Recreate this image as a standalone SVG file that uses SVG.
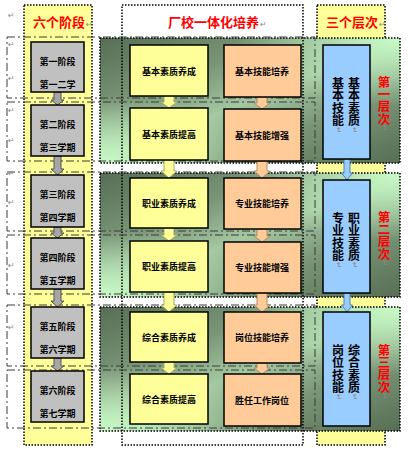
<svg xmlns="http://www.w3.org/2000/svg" width="409" height="450" viewBox="0 0 409 450">
<defs>
<linearGradient id="pgBase" x1="0" y1="0" x2="1" y2="1">
<stop offset="0" stop-color="#566e55"/>
<stop offset="0.3" stop-color="#7a9677"/>
<stop offset="0.5" stop-color="#a4c8a1"/>
<stop offset="0.7" stop-color="#7a9677"/>
<stop offset="1" stop-color="#566e55"/>
</linearGradient>
<radialGradient id="hlBL" cx="0" cy="1" r="0.55">
<stop offset="0" stop-color="#c8fac6" stop-opacity="1"/>
<stop offset="1" stop-color="#c8fac6" stop-opacity="0"/>
</radialGradient>
<radialGradient id="hlTR" cx="1" cy="0" r="0.55">
<stop offset="0" stop-color="#c8fac6" stop-opacity="1"/>
<stop offset="1" stop-color="#c8fac6" stop-opacity="0"/>
</radialGradient>
<style>
.col{fill:#ffff99;stroke:#000;stroke-width:1.5;stroke-dasharray:1.5 1.5}
.dot{fill:none;stroke:#000;stroke-width:1.5;stroke-dasharray:1.5 1.5}
.row{fill:none;stroke:#3a3a3a;stroke-width:1;stroke-dasharray:8 3 2 3}
.gray{fill:#c0c0c0;stroke:#000;stroke-width:1.5}
.yel{fill:#ffff99;stroke:#000;stroke-width:1.5}
.pch{fill:#ffcc99;stroke:#000;stroke-width:1.5}
.blu{fill:#99ccff;stroke:#000;stroke-width:1.5}
.t{font-family:"Noto Sans CJK SC","Liberation Sans",sans-serif;font-weight:bold;fill:#000}
.s{font-size:9px;text-anchor:middle}
.hdr{font-family:"Noto Sans CJK SC","Liberation Sans",sans-serif;font-weight:bold;fill:#ff0000;font-size:13px}
.v{font-size:12px;writing-mode:vertical-rl;letter-spacing:0.5px}
.red{font-family:"Noto Sans CJK SC","Liberation Sans",sans-serif;font-weight:bold;fill:#ff0000;font-size:12.5px;writing-mode:vertical-rl;letter-spacing:-0.3px}
.mk{font-family:"DejaVu Sans",sans-serif;fill:#8a8a8a;font-size:8px;font-weight:normal}
.ag{fill:#a6a6a6;stroke:#555;stroke-width:1}
.ay{fill:#ffff99;stroke:#a8a860;stroke-width:1}
.ap{fill:#ffcc99;stroke:#b08a66;stroke-width:1}
.ab{fill:#99ccff;stroke:#4f81bd;stroke-width:1}
</style>
</defs>
<rect width="409" height="450" fill="#ffffff"/>

<!-- background columns -->
<g id="bg">
<rect class="col" x="24" y="5" width="68" height="440"/>
<rect x="122" y="5" width="181" height="440" fill="#ffffff"/>
<rect class="col" x="317" y="5" width="68" height="440"/>
</g>

<!-- green panels -->
<g id="panels">
<rect x="100" y="38" width="300" height="125" fill="url(#pgBase)"/>
<rect x="100" y="38" width="300" height="125" fill="url(#hlBL)"/>
<rect x="100" y="38" width="300" height="125" fill="url(#hlTR)"/>
<rect class="dot" x="100" y="38" width="300" height="125"/>
<rect x="100" y="173" width="300" height="124" fill="url(#pgBase)"/>
<rect x="100" y="173" width="300" height="124" fill="url(#hlBL)"/>
<rect x="100" y="173" width="300" height="124" fill="url(#hlTR)"/>
<rect class="dot" x="100" y="173" width="300" height="124"/>
<rect x="100" y="307" width="300" height="124" fill="url(#pgBase)"/>
<rect x="100" y="307" width="300" height="124" fill="url(#hlBL)"/>
<rect x="100" y="307" width="300" height="124" fill="url(#hlTR)"/>
<rect class="dot" x="100" y="307" width="300" height="124"/>
</g>

<rect class="dot" x="122" y="5" width="181" height="440"/>

<!-- row frames -->
<g id="rows">
<rect class="row" x="7" y="37" width="308" height="61"/>
<rect class="row" x="7" y="102" width="308" height="59"/>
<rect class="row" x="7" y="172" width="308" height="59"/>
<rect class="row" x="7" y="235" width="308" height="59"/>
<rect class="row" x="7" y="305" width="308" height="61"/>
<rect class="row" x="7" y="370" width="308" height="58"/>
</g>

<!-- headers -->
<g id="header-stages"><text class="hdr" x="33" y="27">六个阶段<tspan class="mk" dx="1">↵</tspan></text></g>
<g id="header-training"><text class="hdr" x="168" y="27">厂校一体化培养<tspan class="mk" dx="1">↵</tspan></text></g>
<g id="header-levels"><text class="hdr" x="326" y="27">三个层次<tspan class="mk" dx="1">↵</tspan></text></g>

<!-- margin marks -->
<g id="margin-marks" class="mk">
<text x="8" y="18">↵</text><text x="8" y="47">↵</text><text x="8" y="81">↵</text>
<text x="8" y="113">↵</text><text x="8" y="143">↵</text><text x="8" y="176">↵</text>
<text x="8" y="205">↵</text><text x="8" y="268">↵</text><text x="8" y="330">↵</text>
</g>

<!-- connectors -->
<g id="connectors">
<path class="ag" d="M54,92 V100 H51 L57.5,105 L64,100 H61 V92 Z"/>
<path class="ag" d="M54,156 V169 H51 L57.5,175 L64,169 H61 V156 Z"/>
<path class="ag" d="M54,227 V233 H51 L57.5,238 L64,233 H61 V227 Z"/>
<path class="ag" d="M54,289 V301 H51 L57.5,307 L64,301 H61 V289 Z"/>
<path class="ag" d="M54,358 V366 H51 L57.5,371 L64,366 H61 V358 Z"/>

<path class="ay" d="M164,96 V102 H161 L169,108 L177,102 H174 V96 Z"/>
<path class="ay" d="M164,160 V171 H161 L169,178 L177,171 H174 V160 Z"/>
<path class="ay" d="M164,228 V235 H161 L169,241 L177,235 H174 V228 Z"/>
<path class="ay" d="M164,292 V305 H161 L169,312 L177,305 H174 V292 Z"/>
<path class="ay" d="M164,362 V368 H161 L169,374 L177,368 H174 V362 Z"/>

<path class="ap" d="M257,97 V103 H254 L262,109 L270,103 H267 V97 Z"/>
<path class="ap" d="M257,161 V171 H254 L262,178 L270,171 H267 V161 Z"/>
<path class="ap" d="M257,229 V236 H254 L262,242 L270,236 H267 V229 Z"/>
<path class="ap" d="M257,293 V305 H254 L262,312 L270,305 H267 V293 Z"/>
<path class="ap" d="M257,363 V368 H254 L262,374 L270,368 H267 V363 Z"/>

<path class="ab" d="M344,159 V173 H341.5 L347,180 L352.5,173 H350 V159 Z"/>
<path class="ab" d="M344,293 V305 H341.5 L347,312 L352.5,305 H350 V293 Z"/>
</g>

<!-- stage nodes -->
<g id="stage1"><rect class="gray" x="31" y="42" width="53" height="50"/><text class="t s" x="57.5" y="64.5">第一阶段</text><text class="t s" x="57.5" y="87.5">第一二学</text></g>
<g id="stage2"><rect class="gray" x="31" y="105" width="53" height="51"/><text class="t s" x="57.5" y="127.5">第二阶段</text><text class="t s" x="57.5" y="150.5">第三学期</text></g>
<g id="stage3"><rect class="gray" x="31" y="175" width="53" height="52"/><text class="t s" x="57.5" y="197.5">第三阶段</text><text class="t s" x="57.5" y="220.5">第四学期</text></g>
<g id="stage4"><rect class="gray" x="31" y="238" width="53" height="51"/><text class="t s" x="57.5" y="260.5">第四阶段</text><text class="t s" x="57.5" y="283.5">第五学期</text></g>
<g id="stage5"><rect class="gray" x="31" y="307" width="53" height="51"/><text class="t s" x="57.5" y="329.5">第五阶段</text><text class="t s" x="57.5" y="352.5">第六学期</text></g>
<g id="stage6"><rect class="gray" x="31" y="371" width="53" height="51"/><text class="t s" x="57.5" y="393.5">第六阶段</text><text class="t s" x="57.5" y="416.5">第七学期</text></g>

<!-- quality nodes -->
<g id="quality1"><rect class="yel" x="130" y="45" width="78" height="51"/><text class="t s" x="169" y="75">基本素质养成</text></g>
<g id="quality2"><rect class="yel" x="130" y="108" width="78" height="52"/><text class="t s" x="169" y="138">基本素质提高</text></g>
<g id="quality3"><rect class="yel" x="130" y="178" width="78" height="50"/><text class="t s" x="169" y="207">职业素质养成</text></g>
<g id="quality4"><rect class="yel" x="130" y="241" width="78" height="51"/><text class="t s" x="169" y="270">职业素质提高</text></g>
<g id="quality5"><rect class="yel" x="130" y="312" width="78" height="50"/><text class="t s" x="169" y="341">综合素质养成</text></g>
<g id="quality6"><rect class="yel" x="130" y="374" width="78" height="50"/><text class="t s" x="169" y="403">综合素质提高</text></g>

<!-- skill nodes -->
<g id="skill1"><rect class="pch" x="224" y="45" width="77" height="52"/><text class="t s" x="262" y="75">基本技能培养</text></g>
<g id="skill2"><rect class="pch" x="224" y="109" width="77" height="52"/><text class="t s" x="262" y="139">基本技能增强</text></g>
<g id="skill3"><rect class="pch" x="224" y="178" width="77" height="51"/><text class="t s" x="262" y="207">专业技能培养</text></g>
<g id="skill4"><rect class="pch" x="224" y="242" width="77" height="51"/><text class="t s" x="262" y="271">专业技能增强</text></g>
<g id="skill5"><rect class="pch" x="224" y="312" width="77" height="51"/><text class="t s" x="262" y="341">岗位技能培养</text></g>
<g id="skill6"><rect class="pch" x="224" y="374" width="77" height="52"/><text class="t s" x="262" y="404">胜任工作岗位</text></g>

<!-- level nodes -->
<g id="level1">
<rect class="blu" x="323" y="45" width="47" height="114"/>
<text class="t v" x="354" y="77">基本素质<tspan class="mk">↵</tspan></text>
<text class="t v" x="338" y="77">基本技能<tspan class="mk">↵</tspan></text>
</g>
<g id="level2">
<rect class="blu" x="323" y="180" width="47" height="113"/>
<text class="t v" x="354" y="212">职业素质<tspan class="mk">↵</tspan></text>
<text class="t v" x="338" y="212">专业技能<tspan class="mk">↵</tspan></text>
</g>
<g id="level3">
<rect class="blu" x="323" y="312" width="47" height="114"/>
<text class="t v" x="354" y="344">综合素质<tspan class="mk">↵</tspan></text>
<text class="t v" x="338" y="344">岗位技能<tspan class="mk">↵</tspan></text>
</g>

<!-- tier labels -->
<g id="tier1"><text class="red" x="384" y="76">第一层次<tspan class="mk">↵</tspan></text></g>
<g id="tier2"><text class="red" x="384" y="211">第二层次<tspan class="mk">↵</tspan></text></g>
<g id="tier3"><text class="red" x="384" y="344">第三层次<tspan class="mk">↵</tspan></text></g>
</svg>
